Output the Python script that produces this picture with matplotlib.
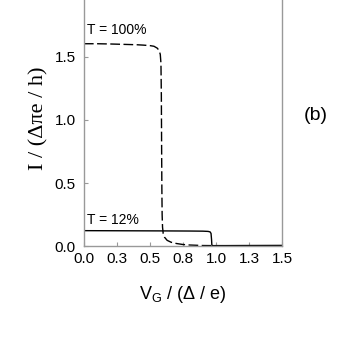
import matplotlib.pyplot as plt

plt.rcParams["font.family"] = ["Liberation Sans", "DejaVu Sans"]
plt.rcParams["mathtext.default"] = "regular"

# T = 100% curve (dashed)
VG_100 = [0.0, 0.1, 0.2, 0.3, 0.4, 0.45, 0.5, 0.53, 0.555, 0.57, 0.578, 0.583, 0.586,
          0.588, 0.59, 0.592, 0.595, 0.6, 0.61, 0.63, 0.66, 0.7, 0.75, 0.8, 0.9, 1.0, 1.2, 1.5]
I_100 = [1.605, 1.605, 1.603, 1.600, 1.597, 1.594, 1.59, 1.585, 1.57, 1.55, 1.52, 1.45, 1.2,
         0.8, 0.45, 0.25, 0.15, 0.10, 0.07, 0.045, 0.03, 0.02, 0.012, 0.008, 0.004, 0.003, 0.002, 0.002]

# T = 12% curve (solid)
VG_12 = [0.0, 0.3, 0.6, 0.8, 0.9, 0.94, 0.955, 0.962, 0.966, 0.968, 0.972, 0.98, 1.0, 1.2, 1.5]
I_12 = [0.122, 0.121, 0.120, 0.119, 0.118, 0.116, 0.112, 0.10, 0.05, 0.01, 0.004, 0.003, 0.003, 0.004, 0.005]

X_TICKS = [0.0, 0.25, 0.5, 0.75, 1.0, 1.25, 1.5]
X_TICK_LABELS = ["0.0", "0.3", "0.5", "0.8", "1.0", "1.3", "1.5"]
Y_TICKS = [0.0, 0.5, 1.0, 1.5]
Y_TICK_LABELS = ["0.0", "0.5", "1.0", "1.5"]

fig = plt.figure(figsize=(3.54, 3.54), dpi=100)
ax = fig.add_axes([0.237, 0.305, 0.56, 0.695])

ax.plot(VG_100, I_100, color="black", linewidth=1.0, linestyle=(0, (7, 2.5)))
ax.plot(VG_12, I_12, color="black", linewidth=1.0)

ax.set_xlim(0, 1.5)
ax.set_ylim(0, 1.952)
ax.set_xticks(X_TICKS)
ax.set_xticklabels(X_TICK_LABELS)
ax.set_yticks(Y_TICKS)
ax.set_yticklabels(Y_TICK_LABELS)
ax.tick_params(direction="in", length=3, width=0.8, color="#999999", labelsize=11)
ax.tick_params(axis="x", pad=4)
ax.tick_params(axis="y", pad=6)

ax.spines["top"].set_visible(False)
for side in ["left", "right", "bottom"]:
    ax.spines[side].set_color("#999999")
    ax.spines[side].set_linewidth(1.0)

ax.text(0.025, 1.66, "T = 100%", fontsize=10, ha="left", va="bottom")
ax.text(0.025, 0.15, "T = 12%", fontsize=10, ha="left", va="bottom")
fig.text(0.893, 0.675, "(b)", fontsize=14, ha="center", va="center")

ax.set_xlabel("V$_{G}$ / (Δ / e)", fontsize=13, labelpad=13)
ax.set_ylabel("I / (Δπe / h)", fontsize=16, family=["Liberation Serif", "DejaVu Serif"])
ax.yaxis.set_label_coords(-0.18, 0.52)

fig.savefig("out.png", dpi=100)
